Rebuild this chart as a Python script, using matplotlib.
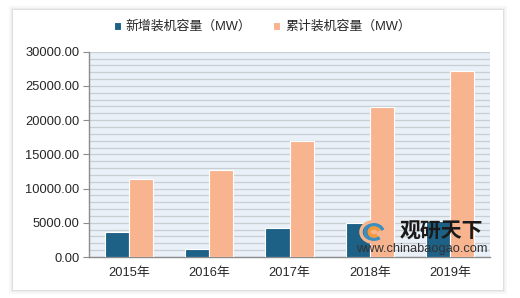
import matplotlib
matplotlib.use("Agg")
from matplotlib import pyplot as plt
from matplotlib.patches import Rectangle, Arc
import numpy as np

FONT = ['Liberation Sans', 'Noto Sans CJK SC', 'DejaVu Sans']
plt.rcParams['font.family'] = FONT

YEARS = ['2015年', '2016年', '2017年', '2018年', '2019年']
NEW_CAP = [3660, 1170, 4200, 4970, 5220]
TOTAL_CAP = [11450, 12730, 16970, 21990, 27210]
SERIES_NAMES = ['新增装机容量（MW）', '累计装机容量（MW）']

BLUE = '#1d6186'
ORANGE = '#f8b48f'

fig = plt.figure(figsize=(5.2, 2.98), dpi=100)
fig.patch.set_facecolor('#ffffff')

# card with soft shadow
for i, a in enumerate([0.06, 0.08, 0.12]):
    d = (3 - i) * 1.2
    fig.patches.append(Rectangle(((13 - d) / 520, 1 - (290 + d) / 298),
                                 (490 + 2 * d) / 520, (280 + 2 * d) / 298,
                                 transform=fig.transFigure, facecolor='#808080',
                                 alpha=a, edgecolor='none', zorder=0))
fig.patches.append(Rectangle((13 / 520, 1 - 290 / 298), 490 / 520, 280 / 298,
                             transform=fig.transFigure, facecolor='white',
                             edgecolor='none', zorder=1))

ax = fig.add_axes([89 / 520, 1 - 257 / 298, 401 / 520, 205.3 / 298])
ax.set_zorder(2)
ax.set_facecolor('#e9f0f7')

x = np.arange(len(YEARS))
w = 0.30
ax.bar(x - w / 2, NEW_CAP, w, color=BLUE, edgecolor='white', linewidth=0.8,
       label=SERIES_NAMES[0], zorder=3)
ax.bar(x + w / 2, TOTAL_CAP, w, color=ORANGE, edgecolor='white', linewidth=0.8,
       label=SERIES_NAMES[1], zorder=3)

ax.set_xlim(-0.5, len(YEARS) - 0.5)
ax.set_ylim(0, 30000)
ax.set_yticks(np.arange(0, 30001, 5000))
ax.set_yticklabels([f'{v:.2f}' for v in np.arange(0, 30001, 5000)])
ax.set_yticks(np.arange(0, 30001, 1000), minor=True)
ax.grid(axis='y', which='both', color='#c9ced3', linewidth=0.9, zorder=0)
ax.set_axisbelow(True)
ax.set_xticks(x)
ax.set_xticklabels(YEARS)

for s in ['top', 'right']:
    ax.spines[s].set_visible(False)
for s in ['left', 'bottom']:
    ax.spines[s].set_color('#8c8c8c')
    ax.spines[s].set_linewidth(1.0)
ax.tick_params(axis='y', which='major', length=4, color='#8c8c8c',
               labelsize=9.3, labelcolor='#262626', pad=3)
ax.tick_params(axis='y', which='minor', length=0)
ax.tick_params(axis='x', length=0, labelsize=9.3, labelcolor='#262626', pad=7)

leg = fig.legend(loc='center left', bbox_to_anchor=(103 / 520, 1 - 27 / 298), ncol=2,
                 fontsize=9.3, frameon=True, handlelength=0.55, handleheight=0.55,
                 handletextpad=0.35, columnspacing=1.7, borderpad=0.35,
                 labelcolor='#262626')
leg.get_frame().set_edgecolor('none')
leg.get_frame().set_facecolor('white')
leg.set_zorder(5)

# watermark
fig.text(400 / 520, 1 - 231 / 298, '观研天下', fontsize=15, fontweight='bold',
         color='#1a1a1a', ha='left', va='center', zorder=6,
         family=['Noto Sans CJK SC'])
fig.text(422 / 520, 1 - 249 / 298, 'www.chinabaogao.com', fontsize=9.3,
         color='#333333', ha='center', va='center', zorder=6)
for r, c in [(13, ORANGE), (9, '#3a8fc0'), (5, '#f39a3c')]:
    fig.patches.append(Arc((374 / 520, 1 - 232 / 298), r * 2 / 520, r * 1.6 / 298,
                           theta1=20, theta2=300, transform=fig.transFigure,
                           color=c, linewidth=2.5, zorder=6))

fig.savefig('out.png', dpi=100)
